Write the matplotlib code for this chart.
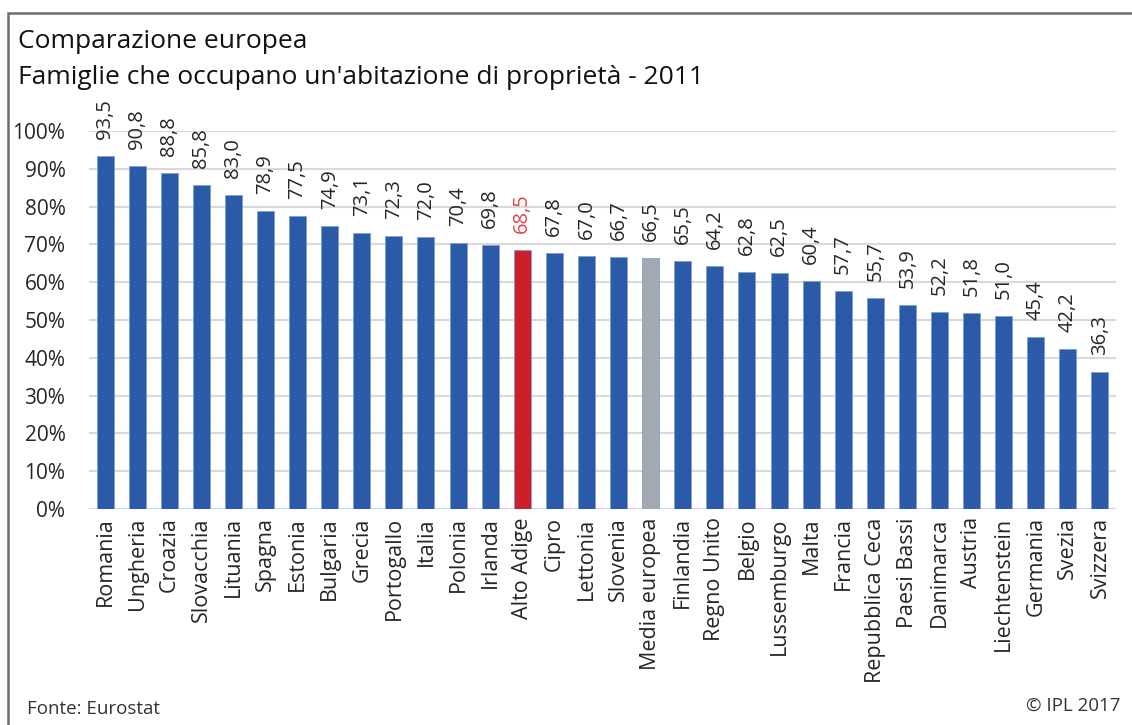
import matplotlib.pyplot as plt
import matplotlib.patches as patches
import numpy as np

plt.rcParams['font.family'] = ['Open Sans', 'DejaVu Sans']

paesi = ["Romania", "Ungheria", "Croazia", "Slovacchia", "Lituania", "Spagna",
         "Estonia", "Bulgaria", "Grecia", "Portogallo", "Italia", "Polonia",
         "Irlanda", "Alto Adige", "Cipro", "Lettonia", "Slovenia", "Media europea",
         "Finlandia", "Regno Unito", "Belgio", "Lussemburgo", "Malta", "Francia",
         "Repubblica Ceca", "Paesi Bassi", "Danimarca", "Austria", "Liechtenstein",
         "Germania", "Svezia", "Svizzera"]
valori = [93.5, 90.8, 88.8, 85.8, 83.0, 78.9, 77.5, 74.9, 73.1, 72.3, 72.0, 70.4,
          69.8, 68.5, 67.8, 67.0, 66.7, 66.5, 65.5, 64.2, 62.8, 62.5, 60.4, 57.7,
          55.7, 53.9, 52.2, 51.8, 51.0, 45.4, 42.2, 36.3]

BLU = "#2b5ba8"
ROSSO = "#cc1f2a"
GRIGIO = "#a2a9b1"

colori = []
for p in paesi:
    if p == "Alto Adige":
        colori.append(ROSSO)
    elif p == "Media europea":
        colori.append(GRIGIO)
    else:
        colori.append(BLU)

fig = plt.figure(figsize=(11.32, 7.25), dpi=100)
ax = fig.add_axes([89 / 1132, 1 - 509 / 725, (1116 - 89) / 1132, (509 - 131) / 725])

x = np.arange(len(paesi))
ax.bar(x, valori, width=0.53, color=colori, edgecolor="#7f9fd0", linewidth=0.6, zorder=3)

for xi, v in zip(x, valori):
    col = "#e0434c" if paesi[xi] == "Alto Adige" else "#262626"
    # Excel schiaccia l'etichetta più alta contro il bordo superiore
    y_lab = min(v + 4.5, 98.0)
    ax.text(xi, y_lab, f"{v:.1f}".replace(".", ","), rotation=90, ha="center",
            va="bottom", fontsize=14.5, color=col, clip_on=False)

ax.set_xlim(-0.5, len(paesi) - 0.5)
ax.set_ylim(0, 100)
ax.set_yticks(np.arange(0, 101, 10))
ax.set_yticklabels([f"{t}%" for t in range(0, 101, 10)], fontsize=15, color="#262626")
ax.set_xticks(x)
ax.set_xticklabels(paesi, rotation=90, fontsize=15.5, color="#262626")
ax.tick_params(axis="x", length=0, pad=6)
ax.tick_params(axis="y", length=0, pad=17)
ax.grid(axis="y", color="#d9d9d9", linewidth=1.5, zorder=0)
for s in ax.spines.values():
    s.set_visible(False)

fig.text(18 / 1132, 1 - 42 / 725, "Comparazione europea", fontsize=19, va="center", color="#111111")
fig.text(18 / 1132, 1 - 77 / 725, "Famiglie che occupano un'abitazione di proprietà - 2011",
         fontsize=19, va="center", color="#111111")
fig.text(27 / 1132, 1 - 709 / 725, "Fonte: Eurostat", fontsize=13.5, va="center", color="#333333")
fig.text(1120 / 1132, 1 - 706 / 725, "© IPL 2017", fontsize=13.5, va="center", ha="right", color="#333333")

bordo = patches.Rectangle((8 / 1132, -0.1), 1.2, 0.1 + 1 - 13 / 725, transform=fig.transFigure,
                          fill=False, edgecolor="#6e6e6e", linewidth=1.8, clip_on=False)
fig.patches.append(bordo)

fig.savefig("out.png", dpi=100)
